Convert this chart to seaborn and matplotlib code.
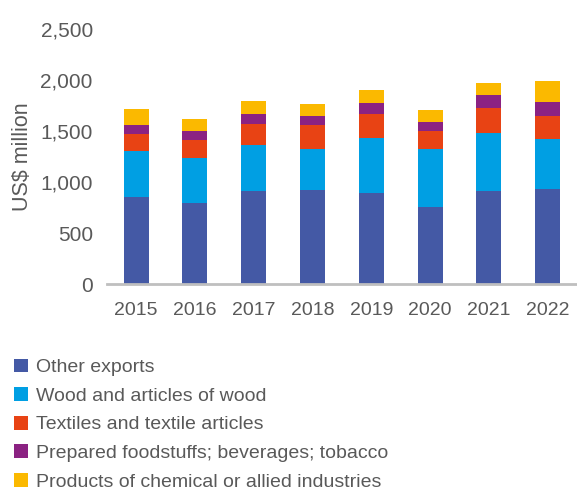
import matplotlib
matplotlib.use("Agg")
import matplotlib.pyplot as plt
from matplotlib.patches import Patch
from matplotlib import font_manager
import numpy as np
import pandas as pd
import seaborn as sns

years = ["2015", "2016", "2017", "2018", "2019", "2020", "2021", "2022"]
other_exports = [855, 796, 914, 927, 894, 756, 914, 933]
wood = [445, 445, 445, 399, 540, 570, 563, 485]
textiles = [173, 174, 213, 236, 236, 177, 252, 232]
foodstuffs = [89, 88, 98, 88, 108, 88, 128, 138]
chemicals = [157, 118, 128, 118, 128, 118, 117, 206]

series_names = [
    "Other exports",
    "Wood and articles of wood",
    "Textiles and textile articles",
    "Prepared foodstuffs; beverages; tobacco",
    "Products of chemical or allied industries",
]
series_values = [other_exports, wood, textiles, foodstuffs, chemicals]
colors = ["#4459A5", "#009FE3", "#E84314", "#8B2282", "#FBB900"]

sns.set_theme(style="white")
available = {f.name for f in font_manager.fontManager.ttflist}
family = "DejaVu Sans Condensed" if "DejaVu Sans Condensed" in available else "Liberation Sans"
plt.rcParams["font.family"] = [family, "DejaVu Sans"]
text_color = "#595959"

df = pd.DataFrame({"year": years})
cum = np.zeros(len(years))
for name, vals in zip(series_names, series_values):
    cum = cum + np.array(vals)
    df[name] = cum

fig = plt.figure(figsize=(5.77, 4.94), dpi=100)
ax = fig.add_axes([0.185, 0.425, 0.815, 0.516])

# stacked bars: draw cumulative totals from the top layer down
for name, color in reversed(list(zip(series_names, colors))):
    sns.barplot(data=df, x="year", y=name, color=color, width=0.425,
                saturation=1, ax=ax, linewidth=0)

ax.set_xlim(-0.5, len(years) - 0.5)
ax.set_ylim(0, 2500)
ax.set_yticks([0, 500, 1000, 1500, 2000, 2500])
ax.set_yticklabels(["0", "500", "1,000", "1,500", "2,000", "2,500"])
ax.set_xlabel("")
ax.set_ylabel("US$ million", fontsize=15.5, color=text_color, labelpad=5)
ax.tick_params(axis="y", labelsize=15, colors=text_color, length=0, pad=10)
ax.tick_params(axis="x", labelsize=14, colors=text_color, length=0, pad=13)

for s in ["top", "right", "left"]:
    ax.spines[s].set_visible(False)
ax.spines["bottom"].set_color("#BFBFBF")
ax.spines["bottom"].set_linewidth(2)
ax.grid(False)

handles = [Patch(facecolor=c, edgecolor="none") for c in colors]
fig.legend(handles, series_names, loc="upper left",
           bbox_to_anchor=(0.01, 0.29), frameon=False,
           fontsize=14, labelcolor=text_color,
           handlelength=0.72, handleheight=0.72, handletextpad=0.45,
           labelspacing=0.56, borderaxespad=0)

fig.savefig("out.png", dpi=100)
